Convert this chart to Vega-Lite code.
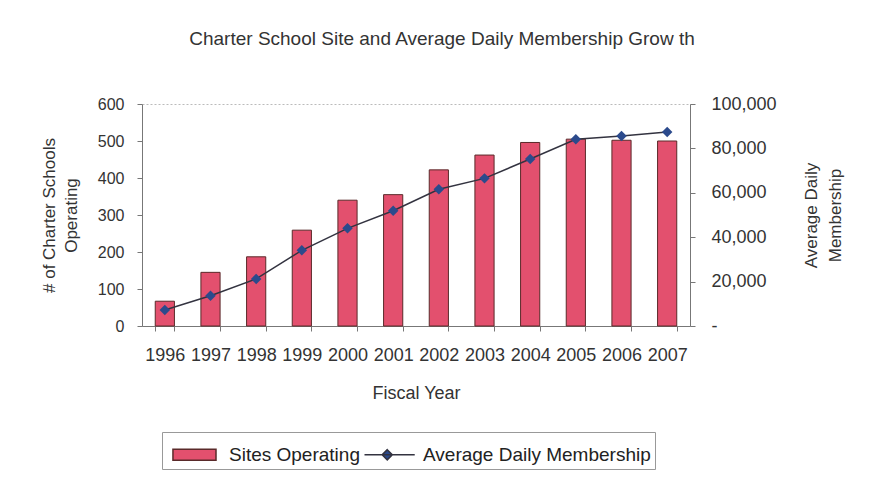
{
  "$schema": "https://vega.github.io/schema/vega-lite/v6.json",
  "width": 548,
  "height": 222,
  "autosize": "none",
  "padding": {"left": 142, "top": 104, "right": 179, "bottom": 151},
  "background": "white",
  "title": {
    "text": "Charter School Site and Average Daily Membership Grow th",
    "font": "Liberation Sans",
    "fontSize": 19,
    "fontWeight": "normal",
    "color": "#333333",
    "dx": 26,
    "offset": 46
  },
  "data": {
    "values": [
      {"year": "1996", "sites": 67, "adm": 7200},
      {"year": "1997", "sites": 145, "adm": 13600},
      {"year": "1998", "sites": 187, "adm": 21200},
      {"year": "1999", "sites": 259, "adm": 34100},
      {"year": "2000", "sites": 340, "adm": 44000},
      {"year": "2001", "sites": 355, "adm": 51900},
      {"year": "2002", "sites": 422, "adm": 61600},
      {"year": "2003", "sites": 462, "adm": 66500},
      {"year": "2004", "sites": 496, "adm": 75200},
      {"year": "2005", "sites": 505, "adm": 84100},
      {"year": "2006", "sites": 502, "adm": 85600},
      {"year": "2007", "sites": 500, "adm": 87400}
    ]
  },
  "config": {
    "view": {"stroke": "#bbbbbb", "strokeDash": [2, 2]},
    "axis": {
      "labelFont": "Liberation Sans",
      "titleFont": "Liberation Sans",
      "labelColor": "#333333",
      "titleColor": "#333333",
      "labelFontSize": 16,
      "titleFontSize": 17,
      "titleFontWeight": "normal",
      "domainColor": "#777777",
      "tickColor": "#777777",
      "tickSize": 5,
      "grid": false
    },
    "legend": {
      "orient": "none",
      "legendX": 20,
      "legendY": 328,
      "direction": "horizontal",
      "title": null,
      "labelFont": "Liberation Sans",
      "labelFontSize": 19,
      "labelColor": "#222222",
      "labelLimit": 400,
      "symbolSize": 1225,
      "symbolOpacity": 1,
      "strokeColor": "#999999",
      "fillColor": "white",
      "padding": 4,
      "columnPadding": -2,
      "labelOffset": 26
    }
  },
  "encoding": {
    "x": {
      "field": "year",
      "type": "ordinal",
      "scale": {"paddingInner": 0.58, "paddingOuter": 0.29},
      "axis": {
        "title": "Fiscal Year",
        "labelAngle": 0,
        "tickBand": "extent",
        "labelPadding": 15,
        "titlePadding": 20,
        "labelFontSize": 18,
        "titleFontSize": 18
      }
    }
  },
  "layer": [
    {
      "mark": {"type": "bar", "stroke": "#5a2a2a", "strokeWidth": 1},
      "encoding": {
        "y": {
          "field": "sites",
          "type": "quantitative",
          "scale": {"domain": [0, 600]},
          "axis": {
            "orient": "left",
            "title": ["# of Charter Schools", "Operating"],
            "values": [0, 100, 200, 300, 400, 500, 600],
            "labelPadding": 13,
            "titlePadding": 17,
            "titleLineHeight": 22
          }
        },
        "color": {
          "datum": "Sites Operating",
          "type": "nominal",
          "scale": {
            "domain": ["Sites Operating", "Average Daily Membership"],
            "range": ["#e3506e", "#2b4a8c"]
          },
          "legend": {
            "encode": {
              "symbols": {
                "update": {
                  "shape": {"signal": "datum.value === 'Sites Operating' ? 'M-0.66,-0.31L1.8,-0.31L1.8,0.31L-0.66,0.31Z' : 'M-0.8,0L2.07,0M0.5,-0.29L0.79,0L0.5,0.29L0.21,0Z'"},
                  "fill": {"signal": "datum.value === 'Sites Operating' ? '#e3506e' : '#2b4a8c'"},
                  "stroke": {"signal": "datum.value === 'Sites Operating' ? '#5a2a2a' : '#333340'"},
                  "strokeWidth": {"value": 1.5},
                  "opacity": {"value": 1}
                }
              }
            }
          }
        }
      }
    },
    {
      "encoding": {
        "y": {
          "field": "adm",
          "type": "quantitative",
          "scale": {"domain": [0, 100000]},
          "axis": {
            "orient": "right",
            "title": ["Average Daily", "Membership"],
            "titleAngle": 270,
            "values": [0, 20000, 40000, 60000, 80000, 100000],
            "labelExpr": "datum.value === 0 ? '-' : format(datum.value, ',')",
            "labelFontSize": 18,
            "labelPadding": 16,
            "titlePadding": 20,
            "titleLineHeight": 24
          }
        }
      },
      "layer": [
        {"mark": {"type": "line", "color": "#333340", "strokeWidth": 1.5}},
        {
          "mark": {"type": "point", "shape": "diamond", "filled": true, "size": 110, "opacity": 1},
          "encoding": {
            "color": {
              "datum": "Average Daily Membership",
              "type": "nominal",
              "legend": {
                "encode": {
                  "symbols": {
                    "update": {
                      "shape": {"signal": "datum.value === 'Sites Operating' ? 'M-0.66,-0.31L1.8,-0.31L1.8,0.31L-0.66,0.31Z' : 'M-0.8,0L2.07,0M0.5,-0.29L0.79,0L0.5,0.29L0.21,0Z'"},
                      "fill": {"signal": "datum.value === 'Sites Operating' ? '#e3506e' : '#2b4a8c'"},
                      "stroke": {"signal": "datum.value === 'Sites Operating' ? '#5a2a2a' : '#333340'"},
                      "strokeWidth": {"value": 1.5},
                      "opacity": {"value": 1}
                    }
                  }
                }
              }
            }
          }
        }
      ]
    }
  ],
  "resolve": {"scale": {"y": "independent"}}
}
